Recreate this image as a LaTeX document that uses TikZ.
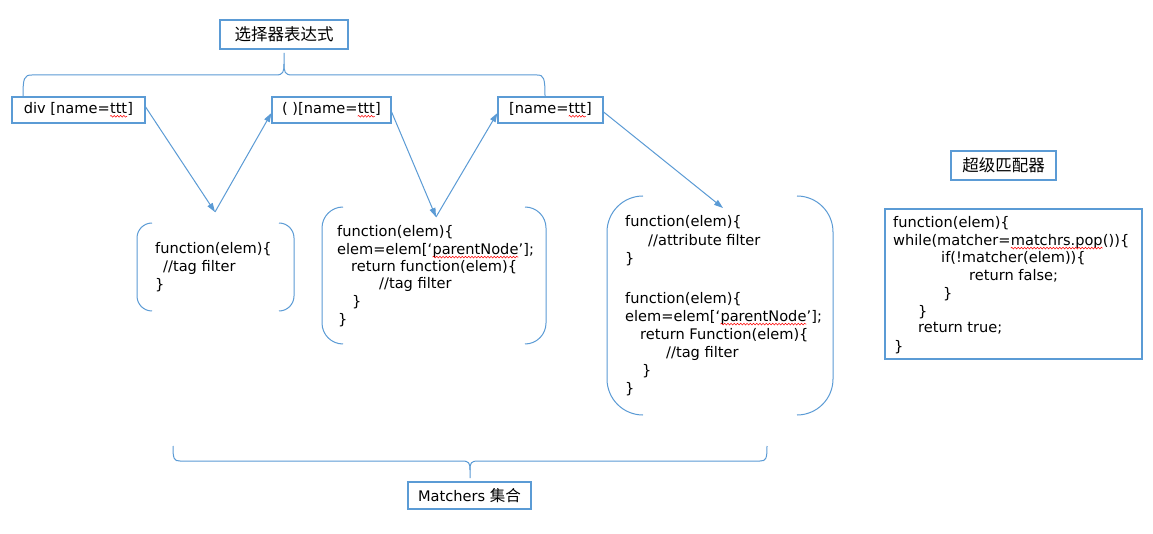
\documentclass[tikz,border=0pt]{standalone}
\usepackage{fontspec}
\setmainfont{DejaVu Sans}
\newfontfamily\cjk{Noto Sans CJK SC}
\usetikzlibrary{arrows.meta,decorations.pathmorphing}
\definecolor{lb}{RGB}{91,155,213}
\newcommand\sq[1]{\tikz[baseline=(sqw.base)]{\node[draw=none, inner sep=0pt, outer sep=0pt, minimum width=0pt, minimum height=0pt, anchor=base west] (sqw) at (0,0) {#1};
  \draw[red, line width=0.5pt, decorate, decoration={snake,amplitude=0.9pt,segment length=3.2pt}] ([yshift=-2.6pt]sqw.base west) -- ([yshift=-2.6pt]sqw.base east);}}
\newcommand\cl[4]{\node[code] (#1) at (#2,#3) {#4};}
\begin{document}
\begin{tikzpicture}[x=1pt,y=-1pt,
  code/.style={anchor=base west, inner sep=0pt, font=\fontsize{14.6}{16}\selectfont},
  box/.style={draw=lb, line width=1.2pt, inner sep=0pt, font=\fontsize{14.6}{16}\selectfont},
  cjkbox/.style={box, font=\cjk\fontsize{16.5}{18}\selectfont},
  ln/.style={draw=lb, line width=1pt},
  arr/.style={ln, -{Triangle[length=9pt,width=6pt]}}]
\useasboundingbox (0,0) rectangle (1153,534);
\fill[white] (0,0) rectangle (1153,534);
% boxes
\node[cjkbox, minimum width=128pt, minimum height=29pt] (sel) at (284,34.5) {选择器表达式};
\node[box, minimum width=133pt, minimum height=26pt] (b1) at (78.5,110) {div [name=\sq{ttt}]};
\node[box, minimum width=119pt, minimum height=26pt] (b2) at (331.5,110) {( )[name=\sq{ttt}]};
\node[box, minimum width=105pt, minimum height=26pt] (b3) at (550.5,110) {[name=\sq{ttt}]};
\node[cjkbox, minimum width=105pt, minimum height=29pt] (sup) at (1003.5,165.5) {超级匹配器};
\node[box, minimum width=123pt, minimum height=27pt] (ms) at (469.5,495.5) {Matchers {\cjk\fontsize{15.5}{17}\selectfont 集合}};
\node[box, minimum width=257pt, minimum height=150pt] (rb) at (1013.5,284) {};
% top brace
\draw[ln] (23,97) .. controls (23,78) and (24,75) .. (32,75) -- (276,75) .. controls (283,75) and (284,72) .. (284,64) -- (284,53);
\draw[ln] (284,64) .. controls (284,72) and (285,75) .. (292,75) -- (537,75) .. controls (544,75) and (545,78) .. (545,97);
% bottom brace
\draw[ln] (173,446) .. controls (173,459) and (174,461) .. (180,461) -- (462,461) .. controls (469,461) and (470,463) .. (470,470) -- (470,478);
\draw[ln] (470,470) .. controls (470,463) and (471,461) .. (478,461) -- (760,461) .. controls (766,461) and (767,459) .. (767,446);
% brackets
\draw[ln, rounded corners=15pt] (152,223) -- (137,223) -- (137,311) -- (152,311);
\draw[ln, rounded corners=15pt] (279,223) -- (294,223) -- (294,311) -- (279,311);
\draw[ln, rounded corners=21pt] (343,207) -- (322,207) -- (322,344) -- (343,344);
\draw[ln, rounded corners=21pt] (525,207) -- (546,207) -- (546,344) -- (525,344);
\draw[ln, rounded corners=36pt] (643,196) -- (607,196) -- (607,415) -- (643,415);
\draw[ln, rounded corners=36pt] (797,196) -- (833,196) -- (833,415) -- (797,415);
% arrows
\coordinate (t1) at (215,212);
\coordinate (t2) at (436,217);
\coordinate (t3) at (723,208);
\draw[arr] ([yshift=3pt]b1.east) -- (t1);
\draw[arr] (t1) -- ([yshift=-3pt]b2.west);
\draw[arr] ([yshift=-2pt]b2.east) -- (t2);
\draw[arr] (t2) -- ([yshift=-3pt]b3.west);
\draw[arr] ([yshift=-2pt]b3.east) -- (t3);
% group 1
\cl{g1a}{155}{253.5}{function(elem)\{}
\cl{g1b}{163}{271.5}{//tag filter}
\cl{g1c}{155}{289.5}{\}}
% group 2
\cl{g2a}{337}{236.5}{function(elem)\{}
\cl{g2b}{337}{254.5}{elem=elem[‘\sq{parentNode}’];}
\cl{g2c}{351}{271.5}{return function(elem)\{}
\cl{g2d}{379}{288.5}{//tag filter}
\cl{g2e}{352}{306.5}{\}}
\cl{g2f}{338}{324.5}{\}}
% group 3
\cl{g3a}{625}{226.5}{function(elem)\{}
\cl{g3b}{648}{245.5}{//attribute filter}
\cl{g3c}{625}{263.5}{\}}
\cl{g3d}{625}{303.5}{function(elem)\{}
\cl{g3e}{625}{321.5}{elem=elem[‘\sq{parentNode}’];}
\cl{g3f}{640}{339.5}{return Function(elem)\{}
\cl{g3g}{666}{357.5}{//tag filter}
\cl{g3h}{642}{375.5}{\}}
\cl{g3i}{625}{393.5}{\}}
% super matcher
\cl{r1}{893}{227.5}{function(elem)\{}
\cl{r2}{893}{245.5}{while(matcher=\sq{matchrs.pop}())\{}
\cl{r3}{941}{262.5}{if(!matcher(elem))\{}
\cl{r4}{969}{280.5}{return false;}
\cl{r5}{943}{298.5}{\}}
\cl{r6}{918}{316.5}{\}}
\cl{r7}{918}{332.5}{return true;}
\cl{r8}{894}{351.5}{\}}
\end{tikzpicture}
\end{document}
